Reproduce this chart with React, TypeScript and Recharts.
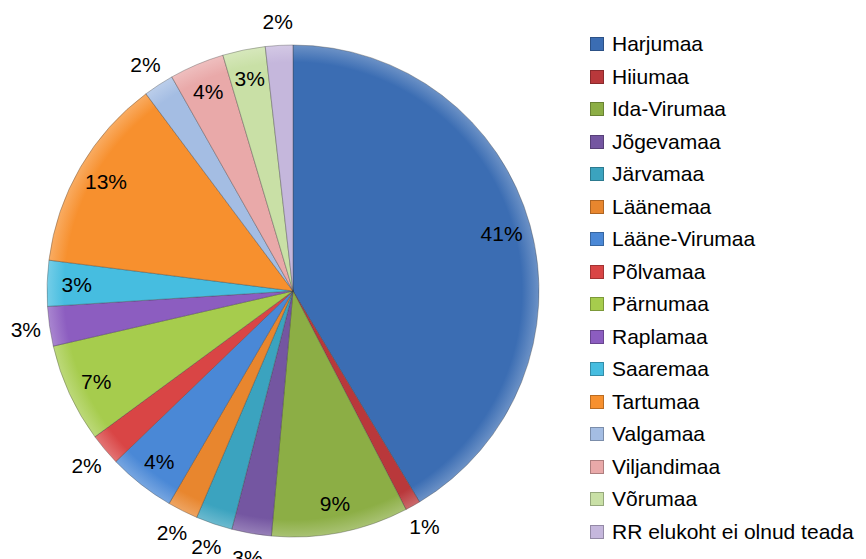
import React from 'react';
import { PieChart, Pie, Cell, Legend } from 'recharts';

// counties, in the order the slices run clockwise from 12 o'clock
const counties = [
  'Harjumaa', 'Hiiumaa', 'Ida-Virumaa', 'Jõgevamaa', 'Järvamaa', 'Läänemaa',
  'Lääne-Virumaa', 'Põlvamaa', 'Pärnumaa', 'Raplamaa', 'Saaremaa', 'Tartumaa',
  'Valgamaa', 'Viljandimaa', 'Võrumaa', 'RR elukoht ei olnud teada',
];

// share of the total, %
const shares = [41.4, 1.0, 9.0, 2.6, 2.4, 2.0, 4.4, 2.1, 6.5, 2.6, 3.0, 12.8, 2.0, 3.6, 2.8, 1.8];

const colors = [
  '#3b6db3', '#b9383b', '#8cae45', '#7456a1', '#3ba3bf', '#e8862e',
  '#4a88d6', '#d94545', '#a6cc4d', '#8c5dc0', '#46bde0', '#f7902e',
  '#a4bde3', '#e9a9a9', '#c9e0a6', '#c5b7dc',
];

const data = counties.map((name, i) => ({ name, value: shares[i] }));
const total = shares.reduce((a, b) => a + b, 0);

const CX = 293;
const CY = 291;
const R = 246;
const RAD = Math.PI / 180;
const FONT = '"Liberation Sans", Arial, sans-serif';

// small slices get their label outside the pie, like Excel's best fit
const INSIDE_MIN = 2.7;

const renderLabel = (props: any) => {
  const { midAngle, value } = props;
  const inside = value >= INSIDE_MIN;
  const r = inside ? R * 0.88 : R + 24;
  const x = CX + r * Math.cos(-midAngle * RAD);
  const y = CY + r * Math.sin(-midAngle * RAD);
  return (
    <text x={x} y={y} fill="#000" fontSize={21} fontFamily={FONT}
      textAnchor="middle" dominantBaseline="central">
      {Math.round((value / total) * 100)}%
    </text>
  );
};

const renderLegend = () => (
  <div style={{ fontFamily: FONT, fontSize: 21, color: '#000' }}>
    {counties.map((name, i) => (
      <div key={name} style={{ height: 32.5, display: 'flex', alignItems: 'center', whiteSpace: 'nowrap' }}>
        <span style={{
          width: 14, height: 14, marginRight: 8, boxSizing: 'border-box',
          background: colors[i], border: '1px solid rgba(0,0,0,0.25)', display: 'inline-block',
        }} />
        <span>{name}</span>
      </div>
    ))}
  </div>
);

export default function App() {
  return (
    <div style={{ position: 'absolute', left: 0, top: 0, width: 866, height: 559, background: '#fff' }}>
      <PieChart width={866} height={559} margin={{ top: 0, right: 0, bottom: 0, left: 0 }}>
        <defs>
          {colors.map((c, i) => (
            <radialGradient key={i} id={`g${i}`} cx={CX} cy={CY} r={R} gradientUnits="userSpaceOnUse">
              <stop offset="0%" stopColor={c} />
              <stop offset="93%" stopColor={c} />
              <stop offset="100%" stopColor={c} stopOpacity={0.75} />
            </radialGradient>
          ))}
        </defs>
        <Pie
          data={data}
          dataKey="value"
          nameKey="name"
          cx={CX}
          cy={CY}
          outerRadius={R}
          startAngle={90}
          endAngle={-270}
          stroke="rgba(60,60,60,0.35)"
          strokeWidth={1}
          label={renderLabel}
          labelLine={false}
          isAnimationActive={false}
        >
          {data.map((d, i) => (
            <Cell key={d.name} fill={`url(#g${i})`} />
          ))}
        </Pie>
        <Legend
          content={renderLegend}
          wrapperStyle={{ position: 'absolute', left: 590, top: 28, width: 276 }}
        />
      </PieChart>
    </div>
  );
}
